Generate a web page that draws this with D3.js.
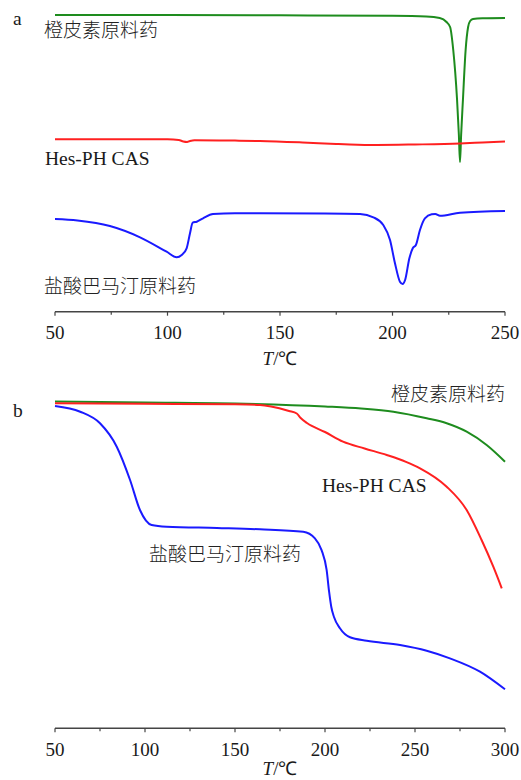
<!DOCTYPE html>
<html>
<head>
<meta charset="utf-8">
<script src="https://cdn.jsdelivr.net/npm/d3@7"></script>
<style>
  html, body { margin: 0; padding: 0; background: #fff; }
  svg { display: block; }
  .lat { font-family: "Liberation Serif", "Times New Roman", serif; font-weight: 400; fill: #1a1a1a; }
  .cjk { font-family: "Noto Sans CJK SC", sans-serif; font-weight: 300; fill: #222; }
</style>
</head>
<body>
<svg id="chart" width="521" height="780"></svg>
<script>
// ---- (a) DSC curves: temperature (°C) vs heat flow (arbitrary units) ----
const dscHesperetin = [
  [50, 297], [100, 297], [150, 296.7], [200, 296.2], [215, 295.5], [221, 294],
  [224, 290], [225.6, 285], [227, 262], [228.7, 212], [229.5, 177], [230, 150],
  [230.5, 177], [231.3, 212], [232.5, 262], [233.6, 285], [234.5, 291],
  [235.8, 293], [240, 293.7], [250, 294]
];
const dscComplex = [
  [50, 172.7], [80, 172.8], [100, 172.7], [105, 172], [107, 170.5], [108.7, 170],
  [110, 171], [112, 171.8], [130, 171.4], [141, 171], [160, 169.5], [175, 168],
  [181, 167.5], [193, 167], [210, 167.5], [230, 168.5], [240, 169.5], [250, 170.5]
];
const dscPalmatine = [
  [50, 93], [60, 91.5], [74.4, 86], [87.8, 74.7], [99.6, 60.3], [104.1, 54.7],
  [106.3, 57], [108.5, 63.7], [110, 78.7], [111.2, 89.3], [113, 90.3], [115.8, 93.7],
  [120.2, 98], [130, 98.7], [141, 98.7], [170, 98.5], [185.6, 98], [191.5, 94.7],
  [195.9, 87], [198.9, 72], [201.1, 48.7], [203.3, 30.3], [204.5, 28], [205.6, 32],
  [207.5, 53.7], [209, 63.7], [210.4, 67], [212.2, 82], [214.4, 93.7], [217.4, 97.7],
  [219, 98], [221.1, 96.3], [230, 99.3], [250, 101]
];

// ---- (b) TG curves: temperature (°C) vs residual mass (%) ----
const tgHesperetin = [
  [50, 100], [100, 99.78], [150, 99.56], [200, 98.89], [220, 98.44], [238, 97.73],
  [256.5, 96.27], [267.6, 95.16], [278.7, 93.29], [289.8, 90.33], [300, 86.62]
];
const tgComplex = [
  [50, 99.6], [100, 99.49], [150, 99.38], [163.9, 99.22], [170, 98.89], [180, 97.89],
  [184.3, 97.33], [186.5, 96.33], [190, 95.22], [200, 93.22], [210, 91.07],
  [222, 89.56], [234.3, 88.11], [245, 86.6], [252.8, 85.16], [267.6, 81.07],
  [278.7, 75.89], [287, 69.22], [293.5, 63.29], [298.2, 58.49]
];
const tgPalmatine = [
  [50, 99.0], [64, 97.73], [75, 95.16], [84.3, 89.96], [91.7, 82.56], [97.2, 75.89],
  [103.7, 72.56], [112, 72.18], [140, 71.89], [163.9, 71.6], [187.9, 71.07],
  [194.4, 69.6], [198.1, 66.98], [200.9, 62.56], [202.3, 57.67], [203.5, 54.33],
  [205, 52.11], [208.3, 49.6], [213.9, 47.6], [223.2, 46.84], [241.7, 45.89],
  [256.5, 44.62], [269.4, 42.93], [286.1, 39.96], [300, 36.04]
];

const ticksA = [50, 100, 150, 200, 250];
const ticksB = [50, 100, 150, 200, 250, 300];
const seriesNames = ["橙皮素原料药", "Hes-PH CAS", "盐酸巴马汀原料药"];
const axisTitle = ["T", "/℃"];
const colors = { green: "#1e8c1e", red: "#ff2020", blue: "#1a1aff" };

const svg = d3.select("#chart");

// Bottom axis with major ticks every 50 °C and minor ticks in between
function drawAxis(g, x, ticks, y, titleOffset) {
  const [d0, d1] = x.domain();
  const minor = d3.range(d0 + 25, d1, 50);
  const ax = g.append("g").attr("transform", `translate(0,${y})`);
  ax.append("line").attr("x1", x(d0)).attr("x2", x(d1))
    .attr("stroke", "#444").attr("stroke-width", 1.4);
  ax.selectAll(".maj").data(ticks).join("line")
    .attr("x1", d => x(d)).attr("x2", d => x(d)).attr("y1", 0).attr("y2", 4)
    .attr("stroke", "#444").attr("stroke-width", 1.2);
  ax.selectAll(".min").data(minor).join("line")
    .attr("x1", d => x(d)).attr("x2", d => x(d)).attr("y1", 0).attr("y2", 3)
    .attr("stroke", "#444").attr("stroke-width", 1.2);
  ax.selectAll(".lab").data(ticks).join("text").attr("class", "lat")
    .attr("x", d => x(d)).attr("y", 27.5).attr("text-anchor", "middle")
    .attr("font-size", 19).text(d => d);
  const t = ax.append("text").attr("class", "lat").attr("font-size", 19)
    .attr("x", x((d0 + d1) / 2)).attr("y", titleOffset).attr("text-anchor", "middle");
  t.append("tspan").attr("font-style", "italic").text(axisTitle[0]);
  t.append("tspan").text(axisTitle[1]);
}

function drawLine(g, data, x, y, color) {
  const line = d3.line().x(d => x(d[0])).y(d => y(d[1])).curve(d3.curveMonotoneX);
  g.append("path").datum(data).attr("d", line)
    .attr("fill", "none").attr("stroke", color).attr("stroke-width", 2)
    .attr("stroke-linejoin", "round");
}

function label(g, txt, x, y, cjk, anchor) {
  g.append("text").attr("class", cjk ? "cjk" : "lat")
    .attr("x", x).attr("y", y).attr("font-size", cjk ? 19 : 19.5)
    .attr("text-anchor", anchor || "start").text(txt);
}

// ----- panel a -----
const gA = svg.append("g");
const xA = d3.scaleLinear().domain([50, 250]).range([55, 505]);
const yA = d3.scaleLinear().domain([0, 312]).range([312, 0]);
drawLine(gA, dscHesperetin, xA, yA, colors.green);
drawLine(gA, dscComplex, xA, yA, colors.red);
drawLine(gA, dscPalmatine, xA, yA, colors.blue);
drawAxis(gA, xA, ticksA, 311.7, 53);
label(gA, "a", 13, 25, false);
label(gA, seriesNames[0], 44, 37, true);
label(gA, seriesNames[1], 45, 165, false);
label(gA, seriesNames[2], 44, 293, true);

// ----- panel b -----
const gB = svg.append("g");
const xB = d3.scaleLinear().domain([50, 300]).range([55, 505]);
const yB = d3.scaleLinear().domain([0, 100]).range([851.5, 401.5]);
drawLine(gB, tgHesperetin, xB, yB, colors.green);
drawLine(gB, tgComplex, xB, yB, colors.red);
drawLine(gB, tgPalmatine, xB, yB, colors.blue);
drawAxis(gB, xB, ticksB, 728.3, 46.5);
label(gB, "b", 13, 417, false);
label(gB, seriesNames[0], 505, 401, true, "end");
label(gB, seriesNames[1], 322, 492, false);
label(gB, seriesNames[2], 149, 561, true);
</script>
</body>
</html>
